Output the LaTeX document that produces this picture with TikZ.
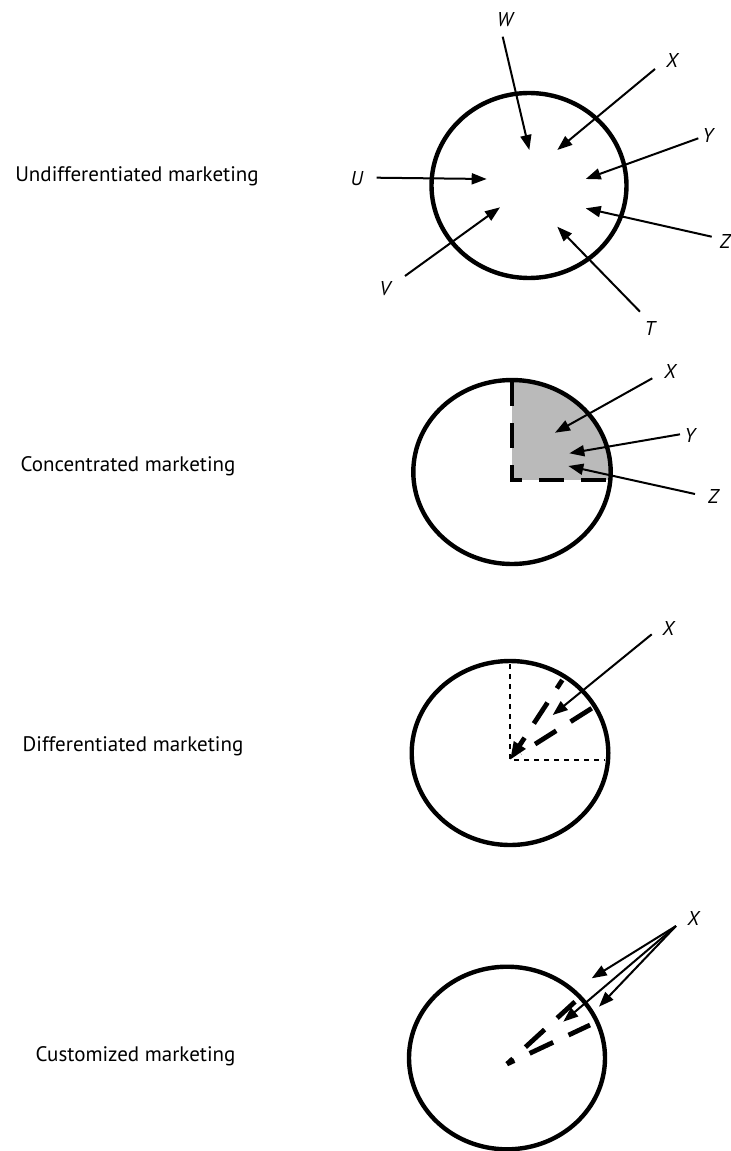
\documentclass[tikz,border=0pt]{standalone}
\usepackage{fontspec}
\setmainfont{PT Sans}
\usetikzlibrary{arrows.meta}
\begin{document}
\begin{tikzpicture}[x=0.5pt,y=-0.5pt,
  rim/.style={line width=2.2pt},
  ptr/.style={line width=1pt,-{Triangle[length=7.5pt,width=5.5pt]}},
  seg/.style={line width=2.4pt,dash pattern=on 12.5pt off 8.5pt},
  dots/.style={line width=1.3pt,dash pattern=on 2.5pt off 2.5pt},
  tag/.style={font=\fontsize{10}{12}\selectfont\itshape,inner sep=0pt},
  caption/.style={font=\fontsize{10.5}{12}\selectfont,anchor=base,inner sep=0pt}]
\useasboundingbox (0,0) rectangle (731,1151);

% ---------- captions ----------
\node[caption] (cap1) at (137,181.7) {Undifferentiated marketing};
\node[caption] (cap2) at (128,471.7) {Concentrated marketing};
\node[caption] (cap3) at (133,751.7) {Differentiated marketing};
\node[caption] (cap4) at (135.5,1061.7) {Customized marketing};

% ---------- undifferentiated: whole market ----------
\draw[rim] (529,185.5) ellipse [x radius=48.75pt,y radius=46.25pt];
\node[tag] (W1) at (505,20) {W};
\node[tag] (X1) at (672,60) {X};
\node[tag] (Y1) at (708,135) {Y};
\node[tag] (U1) at (356.7,178.3) {U};
\node[tag] (Z1) at (725,241.7) {Z};
\node[tag] (V1) at (385,288.3) {V};
\node[tag] (T1) at (650,328.3) {T};
\coordinate (w1s) at (502.7,36.7);  \coordinate (w1t) at (529.3,150);
\coordinate (x1s) at (655,69);      \coordinate (x1t) at (557.3,150);
\coordinate (y1s) at (698.3,138.3); \coordinate (y1t) at (585.7,179);
\coordinate (u1s) at (376.7,177.7); \coordinate (u1t) at (486.7,179);
\coordinate (z1s) at (711.7,236.7); \coordinate (z1t) at (585.7,208.3);
\coordinate (v1s) at (405,276);     \coordinate (v1t) at (500,207.3);
\coordinate (t1s) at (640,311.7);   \coordinate (t1t) at (557.3,226.7);
\foreach \p in {w1,x1,y1,u1,z1,v1,t1}
  \draw[ptr] (\p s) -- (\p t);

% ---------- concentrated: one segment ----------
\begin{scope}
  \clip (512,472) ellipse [x radius=49.35pt,y radius=46pt];
  \fill[black!27] (512,480) rectangle (625,370);
\end{scope}
\draw[seg] (512,381) -- (512,480) -- (610,480);
\draw[rim] (512,472) ellipse [x radius=49.35pt,y radius=46pt];
\node[tag] (X2) at (670,371.7) {X};
\node[tag] (Y2) at (690,435) {Y};
\node[tag] (Z2) at (713.3,496.7) {Z};
\coordinate (x2s) at (652.3,378.3); \coordinate (x2t) at (555,432.7);
\coordinate (y2s) at (680,434.3);   \coordinate (y2t) at (569.3,453.3);
\coordinate (z2s) at (695,494);     \coordinate (z2t) at (568.3,466);
\foreach \p in {x2,y2,z2}
  \draw[ptr] (\p s) -- (\p t);

% ---------- differentiated: several segments ----------
\draw[dots] (510,664) -- (510,760) -- (605,760);
\coordinate (c3) at (510,760);
\coordinate (a3) at (562.3,680);
\coordinate (b3) at (591.7,708.3);
\coordinate (b3e) at (520.7,753.2);
\draw[seg,dash phase=7.5pt,-{Triangle[length=9pt,width=6.5pt]}] (a3) -- (c3);
\draw[seg] (b3) -- (b3e);
\draw[rim] (510,753) ellipse [x radius=49.15pt,y radius=46pt];
\node[tag] (X3) at (668.3,628.3) {X};
\coordinate (x3s) at (651.7,634.3); \coordinate (x3t) at (552.7,715);
\draw[ptr] (x3s) -- (x3t);

% ---------- customized: individual customers ----------
\coordinate (c4) at (507,1064);
\coordinate (a4) at (575,1001.7);
\coordinate (b4) at (590,1025);
\draw[seg,dash pattern=on 13pt off 8.5pt,dash phase=9pt] (c4) -- (a4);
\draw[seg,dash pattern=on 13pt off 8.5pt,dash phase=9pt] (c4) -- (b4);
\draw[rim] (507,1058) ellipse [x radius=49pt,y radius=45.65pt];
\node[tag] (X4) at (693.3,918.3) {X};
\coordinate (x4s) at (676,926);
\coordinate (x4p) at (591.7,978.3);
\coordinate (x4q) at (563.3,1021.7);
\coordinate (x4r) at (599,1006.7);
\foreach \t in {x4p,x4q,x4r}
  \draw[ptr] (x4s) -- (\t);
\end{tikzpicture}
\end{document}
